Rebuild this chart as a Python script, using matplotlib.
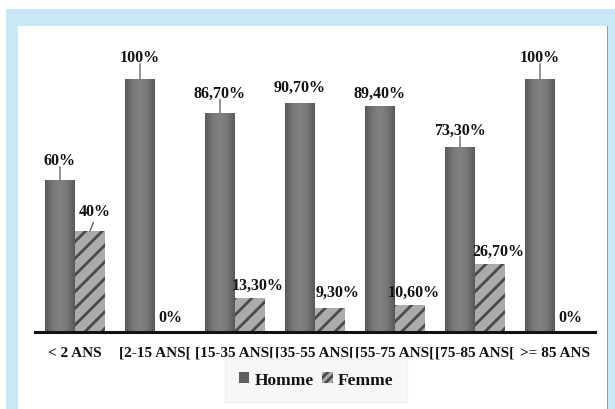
import matplotlib
matplotlib.use("Agg")
import matplotlib.pyplot as plt
import numpy as np
from matplotlib.patches import Rectangle, Patch

# Répartition par sexe selon la tranche d'âge
categories = ["< 2 ANS", "[2-15 ANS[", "[15-35 ANS[", "[35-55 ANS[",
              "[55-75 ANS[", "[75-85 ANS[", ">= 85 ANS"]
homme = [60, 100, 86.7, 90.7, 89.4, 73.3, 100]
femme = [40, 0, 13.3, 9.3, 10.6, 26.7, 0]
homme_labels = ["60%", "100%", "86,70%", "90,70%", "89,40%", "73,30%", "100%"]
femme_labels = ["40%", "0%", "13,30%", "9,30%", "10,60%", "26,70%", "0%"]

plt.rcParams["font.family"] = ["Liberation Serif", "DejaVu Serif"]
plt.rcParams["hatch.linewidth"] = 2.0
plt.rcParams["hatch.color"] = "#4a4a4a"

W, H = 615, 410
fig = plt.figure(figsize=(W / 100, H / 100), dpi=100)
fig.patch.set_facecolor("white")

# cadre bleu clair autour du graphique
fig.patches.append(Rectangle((6 / W, 0), 1 - 6 / W, 1 - 10 / H,
                             transform=fig.transFigure, facecolor="#c8e8f8",
                             edgecolor="none", zorder=-2))
fig.patches.append(Rectangle((18 / W, 0), (607 - 18) / W, 1 - 27 / H,
                             transform=fig.transFigure, facecolor="white",
                             edgecolor="none", zorder=-1))
fig.patches.append(Rectangle((607 / W, 0), 1.2 / W, 1 - 27 / H,
                             transform=fig.transFigure, facecolor="#9a9a9a",
                             edgecolor="none", zorder=-1))

ax = fig.add_axes([35 / W, 77 / H, 560 / W, 303 / H])
ax.set_facecolor("none")
ymax = 303 / 253 * 100

x = np.arange(len(categories))
bw = 0.375

# dégradé horizontal des barres "Homme"
grad = np.linspace(0, 1, 64)
shade = 1 - (np.abs(grad - 0.5) * 2) ** 2
img = np.zeros((1, 64, 3))
dark, light = np.array([0.34, 0.34, 0.34]), np.array([0.50, 0.50, 0.50])
img[0] = dark + (light - dark) * shade[:, None]

bars_h = ax.bar(x - bw / 2, homme, width=bw, color="#6e6e6e",
                edgecolor="none", zorder=2)
for b in bars_h:
    x0, w, h = b.get_x(), b.get_width(), b.get_height()
    im = ax.imshow(img, extent=(x0, x0 + w, 0, h), aspect="auto",
                   interpolation="bilinear", zorder=2.5)
    im.set_clip_path(b)

bars_f = ax.bar(x + bw / 2, femme, width=bw, facecolor="#ababab",
                edgecolor="#4a4a4a", linewidth=0, hatch="//", zorder=2)

ax.set_xlim(-0.5, len(categories) - 0.5)
ax.set_ylim(0, ymax)

lab_kw = dict(ha="center", va="bottom", fontsize=11.5, fontweight="bold",
              color="#111111", zorder=4)
line_kw = dict(arrowstyle="-", color="#555555", lw=0.9, shrinkA=0, shrinkB=0)

# étiquettes "Homme" : décalage vertical (points) et trait de rappel
h_off = [8.6, 10, 8.6, 5.8, 3.6, 6.5, 10]
h_lead = [True, True, True, False, False, True, True]
for xi, v, t, off, lead in zip(x, homme, homme_labels, h_off, h_lead):
    xc = xi - bw / 2
    ax.annotate(t, (xc, v), xytext=(0, off), textcoords="offset points", **lab_kw)
    if lead:
        ax.annotate("", (xc, v), xytext=(0, off + 1), textcoords="offset points",
                    arrowprops=line_kw)

# étiquettes "Femme" : décalage (dx, dy) en points
f_off = [(3.6, 8.6), (0, 5), (5.8, 4.3), (5.8, 6.5), (3, 3.6), (5.8, 4.3), (0, 5)]
for xi, v, t, (dx, dy) in zip(x, femme, femme_labels, f_off):
    xc = xi + bw / 2
    ax.annotate(t, (xc, v), xytext=(dx, dy), textcoords="offset points", **lab_kw)
ax.annotate("", (x[0] + bw / 2, femme[0]), xytext=(2.5, 6),
            textcoords="offset points", arrowprops=line_kw)

ax.set_xticks(x)
ax.set_xticklabels(categories, fontsize=11, fontweight="bold", color="#111111")
ax.tick_params(axis="x", length=0, pad=10)
ax.set_yticks([])
for s in ["top", "right", "left"]:
    ax.spines[s].set_visible(False)
ax.spines["bottom"].set_linewidth(2.2)
ax.spines["bottom"].set_color("#111111")
ax.spines["bottom"].set_zorder(5)

handles = [Patch(facecolor="#5f5f5f", edgecolor="none", label="Homme"),
           Patch(facecolor="#ababab", edgecolor="#4a4a4a", linewidth=0,
                 hatch="////", label="Femme")]
leg = fig.legend(handles=handles, loc="center", bbox_to_anchor=(316 / W, 1 - 381 / H),
                 ncol=2, frameon=True,
                 prop=dict(weight="bold", size=12.5), handlelength=0.6,
                 handleheight=0.6, handletextpad=0.3, columnspacing=0.5,
                 borderpad=0.8, borderaxespad=0, fancybox=False)
leg.get_frame().set_facecolor("#f5f5f5")
leg.get_frame().set_edgecolor("#f0f0f0")
for t in leg.get_texts():
    t.set_color("#111111")

fig.savefig("out.png", dpi=100)
